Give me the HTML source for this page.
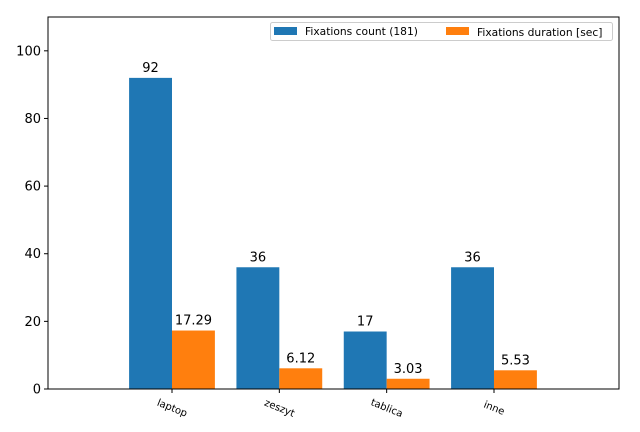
<!DOCTYPE html>
<html><head><meta charset="utf-8"><style>body{margin:0;background:#fff}svg{display:block;font-family:"DejaVu Sans","Liberation Sans",sans-serif}</style></head>
<body>
<svg id="c" width="640" height="432"></svg>
<script>
const categories=["laptop","zeszyt","tablica","inne"];
const countValues=[92,36,17,36];
const durationValues=[17.29,6.12,3.03,5.53];
const durationLabels=["17.29","6.12","3.03","5.53"];
const yTicks=[0,20,40,60,80,100];
const NS="http://www.w3.org/2000/svg";
const svg=document.getElementById('c');
const L=48,R=619,T=17,B=389;
const y=v=>B-(v/110)*(B-T);
const x=i=>172+i*107.33;
const bw=42.9;
function mk(t,a,p){const e=document.createElementNS(NS,t);for(const k in a)e.setAttribute(k,a[k]);(p||svg).appendChild(e);return e;}
categories.forEach((c,i)=>{
  const b1=mk('rect',{x:x(i)-bw,y:y(countValues[i]),width:bw,height:B-y(countValues[i]),fill:'#1f77b4'});
  
  
  const b2=mk('rect',{x:x(i),y:y(durationValues[i]),width:bw,height:B-y(durationValues[i]),fill:'#ff7f0e'});
  
  
  const t1=mk('text',{x:x(i)-bw/2,y:y(countValues[i])-6,'text-anchor':'middle','font-size':13});
  t1.textContent=countValues[i];
  
  
  const t2=mk('text',{x:x(i)+bw/2,y:y(durationValues[i])-6,'text-anchor':'middle','font-size':13});
  t2.textContent=durationLabels[i];
  
  
  mk('line',{x1:x(i),x2:x(i),y1:B,y2:B+4,stroke:'#000'});
  const tl=mk('text',{x:0,y:0,'text-anchor':'middle','font-size':10,transform:`translate(${x(i)-1},${B+22}) rotate(22)`});
  tl.textContent=c;
  
  
});
yTicks.forEach(v=>{
  mk('line',{x1:L-4,x2:L,y1:y(v),y2:y(v),stroke:'#000'});
  const t=mk('text',{x:L-7,y:y(v)+4.5,'text-anchor':'end','font-size':13});
  t.textContent=v;
  
  
});
const frame=mk('rect',{x:L,y:T,width:R-L,height:B-T,fill:'none',stroke:'#000','stroke-width':1});


const lg=mk('g',{});


mk('rect',{x:270.5,y:22.5,width:342,height:18,rx:2,fill:'#fff',stroke:'#ccc'},lg);
mk('rect',{x:274,y:27,width:23,height:8,fill:'#1f77b4'},lg);
const l1=mk('text',{x:305,y:35,'font-size':10.7},lg);l1.textContent='Fixations count (181)';
mk('rect',{x:446,y:27,width:23,height:8,fill:'#ff7f0e'},lg);
const l2=mk('text',{x:477,y:36,'font-size':10.7},lg);l2.textContent='Fixations duration [sec]';
</script>
</body></html>
